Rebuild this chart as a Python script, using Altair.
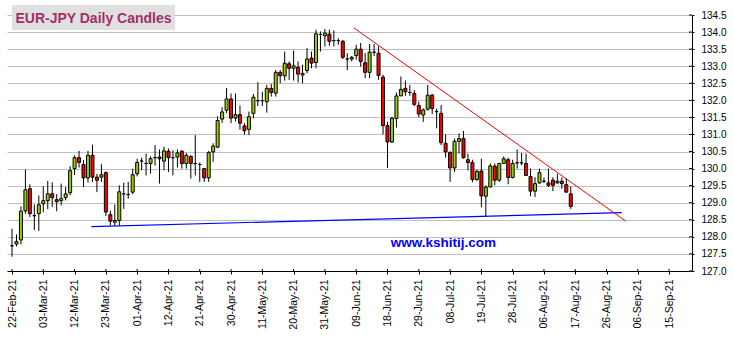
import altair as alt
import pandas as pd

# ---- data ----
opens = [127.74, 127.79, 127.91, 128.76, 129.41, 128.62, 128.68, 128.97, 129.06, 129.26,
         129.09, 129.06, 129.15, 129.29, 130.00, 130.32, 130.12, 129.73, 130.39, 129.75,
         129.75, 129.88, 128.65, 128.43, 128.48, 129.26, 129.24, 129.31, 129.85, 130.22,
         130.15, 130.15, 130.32, 130.34, 130.22, 130.51, 130.32, 130.34, 130.51, 130.15,
         130.36, 130.15, 130.12, 130.00, 129.73, 130.49, 130.63, 131.45, 131.71, 132.04,
         131.48, 131.58, 131.25, 131.15, 131.62, 131.99, 131.99, 131.96, 132.35, 132.21,
         132.82, 132.72, 133.07, 132.94, 132.97, 132.74, 132.87, 133.24, 133.11, 133.93,
         133.89, 133.94, 133.75, 133.75, 133.73, 133.21, 133.21, 133.31, 133.50, 133.10,
         132.82, 133.41, 133.38, 132.68, 131.26, 130.78, 131.47, 132.13, 132.35, 132.23,
         132.20, 131.85, 131.57, 131.74, 132.15, 131.67, 131.62, 130.74, 130.47, 130.02,
         130.80, 130.88, 130.26, 130.18, 129.68, 129.93, 129.19, 129.46, 130.07, 129.66,
         130.15, 130.26, 129.74, 130.17, 130.17, 130.15, 129.77, 129.34, 129.58, 129.63,
         129.58, 129.66, 129.58, 129.63, 129.53, 129.26]
highs = [128.24, 128.07, 128.89, 129.97, 129.54, 128.95, 129.21, 129.48, 129.64, 129.60,
         129.25, 129.56, 129.46, 130.07, 130.39, 130.52, 130.25, 130.52, 130.70, 129.85,
         130.13, 129.92, 128.77, 128.95, 129.51, 129.59, 129.61, 130.00, 130.29, 130.32,
         130.44, 130.36, 130.69, 130.56, 130.64, 130.59, 130.54, 130.56, 130.54, 130.46,
         130.39, 130.98, 130.18, 130.00, 130.52, 130.74, 131.53, 131.80, 132.36, 132.20,
         132.20, 131.85, 131.33, 131.67, 132.19, 132.53, 132.25, 132.45, 132.48, 132.89,
         132.89, 133.43, 133.14, 133.46, 133.14, 133.04, 133.53, 133.43, 134.07, 134.02,
         134.09, 134.07, 134.05, 133.82, 133.77, 133.38, 133.30, 133.63, 133.68, 133.38,
         133.65, 133.65, 133.58, 132.75, 131.37, 131.52, 132.23, 132.70, 132.58, 132.45,
         132.30, 131.96, 131.76, 132.45, 132.19, 131.76, 131.86, 131.00, 130.51, 130.88,
         131.03, 131.10, 130.44, 130.26, 129.97, 130.29, 129.51, 130.15, 130.15, 130.17,
         130.36, 130.32, 130.26, 130.56, 130.46, 130.44, 130.00, 129.75, 130.00, 129.74,
         130.00, 129.75, 129.85, 129.74, 129.71, 129.48]
lows = [127.42, 127.72, 127.78, 128.68, 128.58, 128.20, 128.17, 128.72, 128.81, 128.88,
        128.75, 128.92, 129.07, 129.22, 129.81, 130.03, 129.46, 129.59, 129.61, 129.31,
        129.61, 128.61, 128.33, 128.33, 128.33, 128.82, 129.12, 129.25, 129.77, 129.95,
        129.80, 129.85, 130.09, 129.56, 129.95, 129.90, 129.80, 130.03, 130.00, 130.00,
        129.71, 129.80, 129.61, 129.61, 129.61, 130.20, 130.60, 131.34, 131.63, 131.33,
        131.38, 131.14, 130.99, 130.98, 131.47, 131.83, 131.83, 131.64, 132.11, 132.11,
        132.50, 132.58, 132.60, 132.58, 132.52, 132.50, 132.79, 132.94, 132.94, 133.43,
        133.58, 133.60, 133.58, 133.63, 133.21, 132.89, 133.14, 133.19, 132.99, 132.65,
        132.65, 133.30, 132.60, 131.00, 130.02, 130.75, 131.20, 132.13, 132.13, 132.13,
        131.83, 131.50, 131.37, 131.70, 131.60, 131.18, 130.69, 130.32, 129.61, 129.90,
        130.44, 130.29, 129.95, 129.60, 129.64, 128.87, 128.60, 129.46, 129.51, 129.61,
        130.15, 129.54, 129.71, 130.00, 130.10, 129.80, 129.19, 129.17, 129.56, 129.58,
        129.46, 129.34, 129.56, 129.41, 129.31, 128.82]
closes = [127.74, 127.86, 128.75, 129.38, 128.68, 128.62, 128.94, 129.06, 129.26, 129.15,
          129.03, 129.12, 129.26, 129.94, 130.32, 130.18, 129.73, 130.39, 129.75, 129.66,
          129.82, 128.73, 128.46, 128.48, 129.32, 129.26, 129.24, 129.82, 130.18, 130.22,
          130.15, 130.29, 130.32, 130.29, 130.52, 130.32, 130.32, 130.46, 130.15, 130.39,
          130.15, 130.15, 130.12, 129.73, 130.47, 130.66, 131.41, 131.66, 132.04, 131.48,
          131.58, 131.33, 131.11, 131.52, 132.09, 131.99, 131.99, 132.35, 132.23, 132.82,
          132.72, 133.09, 132.94, 133.01, 132.77, 132.79, 133.21, 133.09, 133.95, 133.93,
          133.97, 133.73, 133.75, 133.75, 133.26, 133.21, 133.26, 133.50, 133.14, 132.82,
          133.41, 133.41, 132.73, 131.26, 130.78, 131.47, 132.13, 132.32, 132.25, 132.23,
          131.88, 131.60, 131.72, 132.15, 131.76, 131.67, 130.76, 130.49, 130.02, 130.80,
          130.88, 130.32, 130.18, 129.68, 129.92, 129.20, 129.46, 130.08, 129.66, 130.15,
          130.29, 129.74, 130.15, 130.17, 130.17, 129.80, 129.34, 129.56, 129.88, 129.63,
          129.51, 129.51, 129.63, 129.56, 129.31, 128.89]

date_labels = ["22-Feb-21", "03-Mar-21", "12-Mar-21", "23-Mar-21", "01-Apr-21", "12-Apr-21",
               "21-Apr-21", "30-Apr-21", "11-May-21", "20-May-21", "31-May-21", "09-Jun-21",
               "18-Jun-21", "29-Jun-21", "08-Jul-21", "19-Jul-21", "28-Jul-21", "06-Aug-21",
               "17-Aug-21", "26-Aug-21", "06-Sep-21", "15-Sep-21"]
label_days = [7 * k for k in range(len(date_labels))]
price_ticks = [127.0 + 0.5 * k for k in range(16)]

support_x = [17.75, 136.4]
support_y = [128.30, 128.71]
resist_x = [76.5, 137.3]
resist_y = [134.12, 128.46]

title_text = "EUR-JPY Daily Candles"
watermark_text = "www.kshitij.com"
watermark_x = [96.5]
watermark_y = [127.82]

# ---- build ----
W, H = 685, 256
df = pd.DataFrame({"day": list(range(len(opens))), "open": opens, "high": highs,
                   "low": lows, "close": closes})
df["col"] = ["#99cc00" if c >= o else "#ff0000" for o, c in zip(opens, closes)]

xscale = alt.Scale(domain=[0, 151], nice=False, zero=False)
yscale = alt.Scale(domain=[127, 134.5], nice=False, zero=False)

label_array = "[" + ",".join('"%s"' % s for s in date_labels) + "]"
x_axis = alt.Axis(values=label_days, labelExpr=label_array + "[round(datum.value/7)]",
                  grid=False, labelAngle=270, tickSize=3, labelPadding=5,
                  labelFontSize=10.5, labelColor="black", labelFont="Liberation Sans",
                  domainColor="black", tickColor="black", labelFlush=False,
                  labelOverlap=False, title="")
y_axis = alt.Axis(orient="right", values=price_ticks, format=".1f", grid=True,
                  gridColor="#c0c0c0", gridWidth=1, tickSize=2, tickColor="black",
                  domainColor="black", labelPadding=7, labelFontSize=10,
                  labelColor="black", labelFont="Liberation Sans", labelFlush=False,
                  labelOverlap=False, title="")


def X(f):
    return alt.X(f, scale=xscale, axis=x_axis, title="")


def Y(f):
    return alt.Y(f, scale=yscale, axis=y_axis, title="")


wicks = alt.Chart(df).mark_rule(color="black", strokeWidth=1).encode(
    x=X("day:Q"), y=Y("low:Q"), y2="high:Q")
bodies = alt.Chart(df).mark_bar(size=3, stroke="black", strokeWidth=1).encode(
    x=X("day:Q"), y=Y("open:Q"), y2="close:Q", fill=alt.Fill("col:N", scale=None))

sup = alt.Chart(pd.DataFrame({"d": support_x, "p": support_y})).mark_line(
    color="#0000ff", strokeWidth=1.1).encode(x=X("d:Q"), y=Y("p:Q"))
res = alt.Chart(pd.DataFrame({"d": resist_x, "p": resist_y})).mark_line(
    color="#ff0000", strokeWidth=1).encode(x=X("d:Q"), y=Y("p:Q"))

ytick_in = alt.Chart(pd.DataFrame({"p": price_ticks})).mark_rule(
    color="black", strokeWidth=1).encode(y=Y("p:Q"), x=alt.value(W - 3), x2=alt.value(W))
xtick_in = alt.Chart(pd.DataFrame({"d": label_days})).mark_rule(
    color="black", strokeWidth=1).encode(x=X("d:Q"), y=alt.value(H - 2), y2=alt.value(H))

wm = alt.Chart(pd.DataFrame({"d": watermark_x, "p": watermark_y, "t": [watermark_text]})).mark_text(
    font="Liberation Sans", fontWeight="bold", fontSize=13.5, color="#0000ff",
    align="center", baseline="middle").encode(x=X("d:Q"), y=Y("p:Q"), text="t:N")

tbox = alt.Chart(pd.DataFrame({"t": [title_text]})).mark_rect(color="#e0e0e0").encode(
    x=alt.value(5), x2=alt.value(168), y=alt.value(-10), y2=alt.value(15))
ttext = alt.Chart(pd.DataFrame({"t": [title_text]})).mark_text(
    font="Liberation Sans", fontWeight="bold", fontSize=14, color="#a0306a",
    align="center", baseline="alphabetic").encode(
    x=alt.value(86.5), y=alt.value(7.7), text="t:N")

chart = alt.layer(sup, res, wicks, bodies, ytick_in, xtick_in, wm, tbox, ttext).properties(
    width=W, height=H,
    autosize=alt.AutoSizeParams(type="none"),
    padding={"left": 7, "top": 15, "right": 41, "bottom": 66},
    background="white",
).configure_view(strokeWidth=0)

chart.save("out.html", embed_options={"renderer": "svg", "actions": False})
